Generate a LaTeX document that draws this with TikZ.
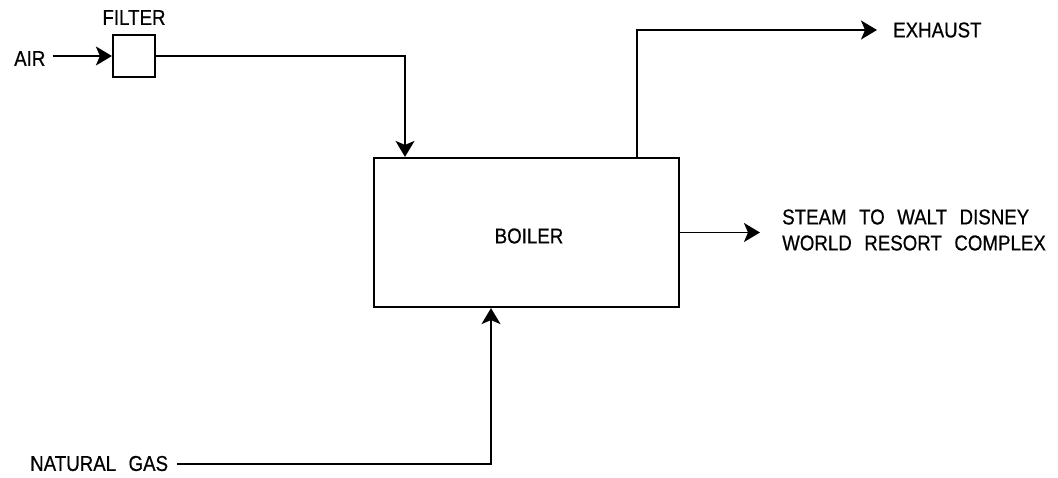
\documentclass[tikz,border=0pt]{standalone}
\usepackage{fontspec}
\setmainfont{Liberation Sans}[FakeStretch=0.87,WordSpace=2.4,FakeBold=0.5]
\usetikzlibrary{arrows.meta}
\tikzset{
  flow/.style={line width=1.6pt,-{Stealth[length=16pt,width=19pt,inset=4pt]}},
  unitbox/.style={draw,line width=2.2pt,rectangle,inner sep=0pt},
  txt/.style={inner sep=0pt,font=\fontsize{21.5}{26}\selectfont}
}
\begin{document}
\begin{tikzpicture}[x=1pt,y=-1pt]
\useasboundingbox (0,0) rectangle (1058,478);
% units
\node[unitbox,minimum width=42pt,minimum height=42pt] (filter) at (134,56) {};
\node[txt] (filterlbl) at (134,17.5) {FILTER};
\node[unitbox,minimum width=305pt,minimum height=149pt] (boiler) at (526.5,232.5) {};
\node[txt] (boilerlbl) at (529,236) {BOILER};
% labels
\node[txt,anchor=west] (air) at (14,58.5) {AIR};
\node[txt,anchor=west] (exhaust) at (893,30) {EXHAUST};
\node[txt,anchor=west,align=left] (steam) at (782,230) {STEAM TO WALT DISNEY\\WORLD RESORT COMPLEX};
\node[txt,anchor=west] (gas) at (30,463.5) {NATURAL GAS};
% helper coordinates
\coordinate (airstart) at ([xshift=7pt]air.east);
\coordinate (steamtip) at ([xshift=-22pt]steam.west);
\coordinate (exhtip) at ([xshift=-16pt]exhaust.west);
\coordinate (exhbase) at ([xshift=110.5pt]boiler.north);
\coordinate (airin) at ([xshift=-121.5pt]boiler.north);
\coordinate (gasin) at ([xshift=-35.5pt]boiler.south);
\coordinate (gasstart) at ([xshift=9pt]gas.east);
% connectors
\draw[flow] (airstart |- filter.west) -- (filter.west);
\draw[flow] (filter.east) -| (airin);
\draw[flow] (exhbase) |- (exhtip);
\draw[flow] (boiler.east) -- (steamtip |- boiler.east);
\draw[flow] (gasstart |- 0,464) -| (gasin);
\end{tikzpicture}
\end{document}
